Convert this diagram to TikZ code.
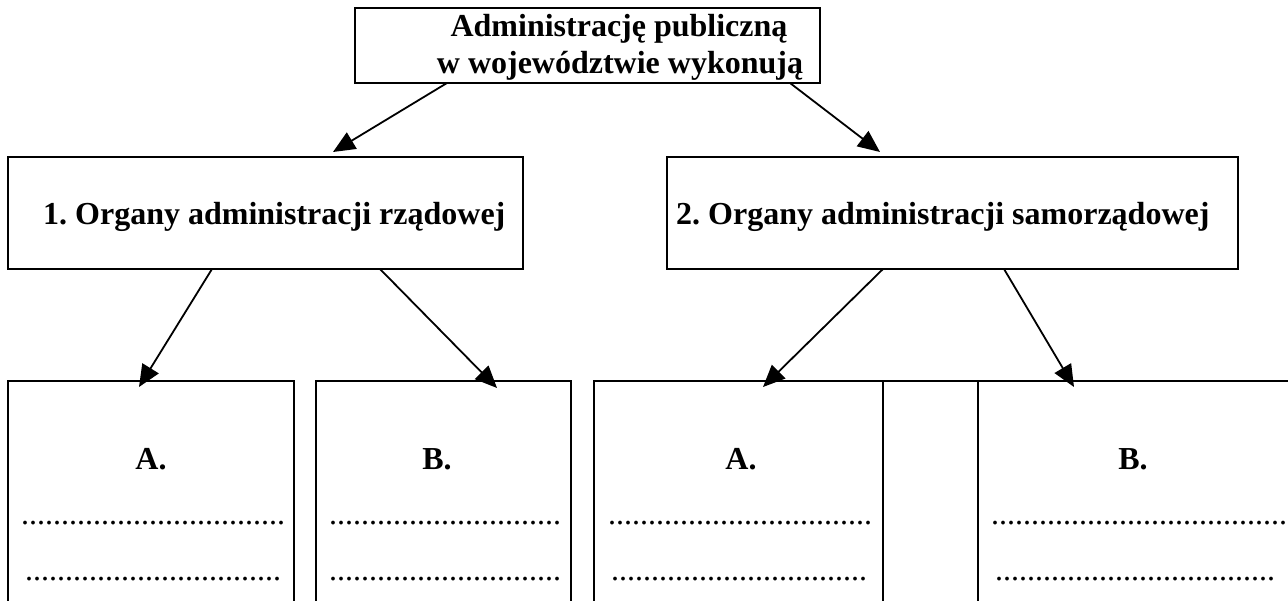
\documentclass[tikz,border=0pt]{standalone}
\usepackage{fontspec}
\setmainfont{Liberation Serif}
\usetikzlibrary{arrows.meta,calc}
\frenchspacing
\newcount\dotcnt
\newcommand\rowdots[1]{\dotcnt=0 \loop\ifnum\dotcnt<#1 .\advance\dotcnt by 1 \repeat}
\tikzset{
  boxnode/.style={draw, line width=1.6pt, rectangle, inner sep=0pt, outer sep=0pt},
  headtxt/.style={font=\fontsize{32}{35}\selectfont\bfseries, inner sep=0pt},
  dottxt/.style={font=\fontsize{32}{35}\selectfont, inner sep=0pt, anchor=base west},
  conn/.style={line width=1.8pt, -{Triangle[length=22pt,width=19pt]}}
}
\begin{document}
\begin{tikzpicture}[x=1pt,y=-1pt]
\clip (0,0) rectangle (1288,601);
\fill[white] (0,0) rectangle (1288,601);
% boxes
\node[boxnode, minimum width=465pt, minimum height=75pt] (top) at (587.5,45.5) {};
\node[boxnode, minimum width=515pt, minimum height=112pt] (g1) at (265.5,213) {};
\node[boxnode, minimum width=571pt, minimum height=112pt] (g2) at (952.5,213) {};
\node[boxnode, minimum width=286pt, minimum height=260pt] (a1) at (151,511) {};
\node[boxnode, minimum width=255pt, minimum height=260pt] (b1) at (443.5,511) {};
\node[boxnode, minimum width=289pt, minimum height=260pt] (a2) at (738.5,511) {};
\node[boxnode, minimum width=95pt, minimum height=260pt] (mid) at (930.5,511) {};
\node[boxnode, minimum width=322pt, minimum height=260pt] (b2) at (1139,511) {};
% texts
\node[headtxt, anchor=base] (t1) at (619,37) {Administrację publiczną};
\node[headtxt, anchor=base] (t2) at (620,74) {w województwie wykonują};
\node[headtxt, anchor=base west] (g1t) at (43,225) {1. Organy administracji rządowej};
\node[headtxt, anchor=base west] (g2t) at (676,225) {2. Organy administracji samorządowej};
\node[headtxt, anchor=base] (la1) at (151,469) {A.};
\node[headtxt, anchor=base] (lb1) at (437,469) {B.};
\node[headtxt, anchor=base] (la2) at (741,469) {A.};
\node[headtxt, anchor=base] (lb2) at (1133,469) {B.};
% dotted lines
\node[dottxt] (d1) at (21,524) {\rowdots{33}};
\node[dottxt] (d2) at (25,580) {\rowdots{32}};
\node[dottxt] (d3) at (329,524) {\rowdots{29}};
\node[dottxt] (d4) at (329,580) {\rowdots{29}};
\node[dottxt] (d5) at (608,524) {\rowdots{33}};
\node[dottxt] (d6) at (611,580) {\rowdots{32}};
\node[dottxt] (d7) at (991,524) {\rowdots{37}};
\node[dottxt] (d8) at (995,580) {\rowdots{35}};
% connectors
\draw[conn] ($(top.south west)+(92,0)$) -- ($(g1.north west)+(325,-5)$);
\draw[conn] ($(top.south west)+(435,0)$) -- ($(g2.north west)+(213,-5)$);
\draw[conn] ($(g1.south west)+(204,0)$) -- ($(a1.north west)+(131,6)$);
\draw[conn] ($(g1.south west)+(372,0)$) -- ($(b1.north west)+(181,7)$);
\draw[conn] ($(g2.south west)+(216,0)$) -- ($(a2.north west)+(169,6)$);
\draw[conn] ($(g2.south west)+(337,0)$) -- ($(b2.north west)+(96,6)$);
\end{tikzpicture}
\end{document}
